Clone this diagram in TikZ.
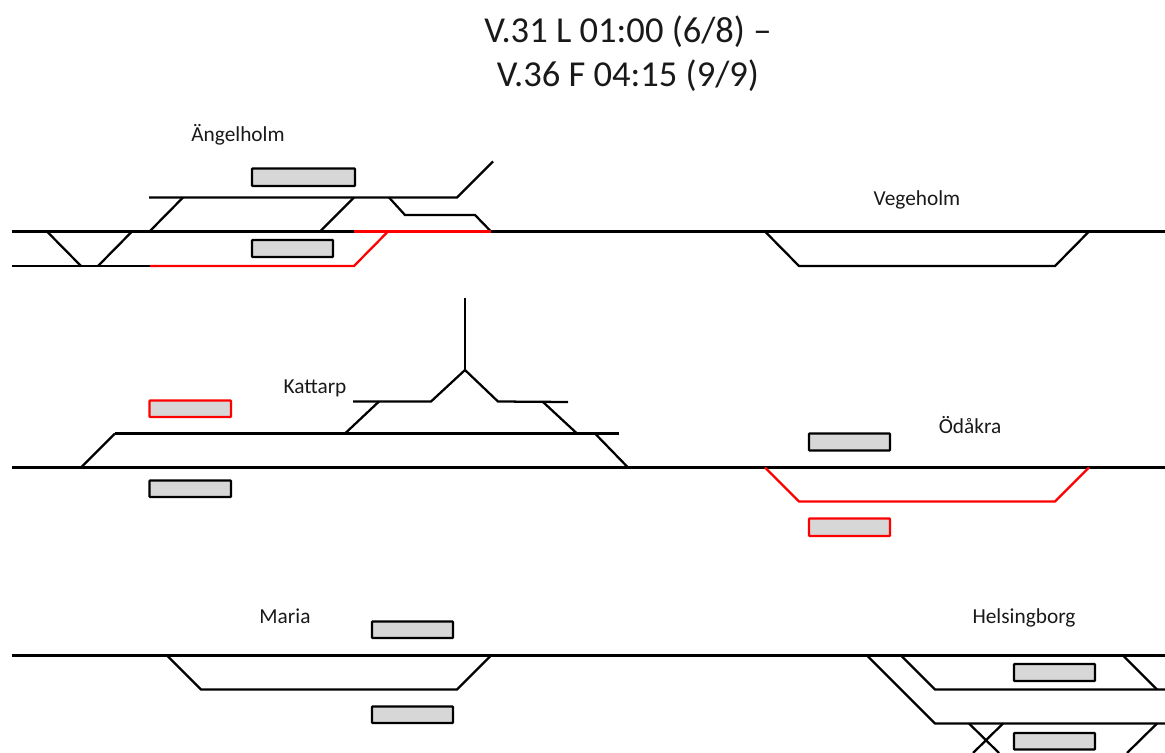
\documentclass[tikz,border=0pt]{standalone}
\usepackage{fontspec}
\setmainfont{Carlito}
\definecolor{platfill}{RGB}{215,215,215}
\definecolor{trackred}{RGB}{255,0,0}
\tikzset{
  track/.style={line width=1.7pt,black,line join=miter},
  redtrack/.style={line width=1.7pt,trackred,line join=miter},
  platform/.style={draw=black,fill=platfill,line width=1.7pt,rounded corners=0.5pt},
  redplatform/.style={platform,draw=trackred},
  place/.style={inner sep=0pt,anchor=base,font=\fontsize{16pt}{19pt}\selectfont,text=black!90},
  heading/.style={inner sep=0pt,align=center,font=\fontsize{27.4pt}{33pt}\selectfont,text=black!90}
}
\begin{document}
\begin{tikzpicture}[x=0.75pt,y=-0.75pt]
\useasboundingbox (0,0) rectangle (1165,753);
\clip (0,0) rectangle (1165,753);
\node[heading] (title) at (628,53.5) {V.31 L 01:00 (6/8) –\\V.36 F 04:15 (9/9)};
\node[place] (angelholm) at (238,141.5) {Ängelholm};
\node[place] (vegeholm) at (917,205.5) {Vegeholm};
\node[place] (kattarp) at (315,393) {Kattarp};
\node[place] (odakra) at (970,433) {Ödåkra};
\node[place] (maria) at (285,623) {Maria};
\node[place] (helsingborg) at (1024,623) {Helsingborg};
% platforms
\draw[platform] (252,168.5) rectangle (355,186);
\draw[platform] (252,240) rectangle (333,257);
\draw[redplatform] (149.5,400.5) rectangle (231,417);
\draw[platform] (149.5,480.5) rectangle (231,497);
\draw[platform] (809,433.5) rectangle (890,450.5);
\draw[redplatform] (809,518.5) rectangle (890,536);
\draw[platform] (372,621.5) rectangle (453,638);
\draw[platform] (372,706.5) rectangle (453,723);
\draw[platform] (1014,664) rectangle (1095,681);
\draw[platform] (1014,733) rectangle (1095,749.5);
% Angelholm
\draw[track] (12,231.5) -- (1165,231.5);
\draw[track] (12,266) -- (150,266);
\draw[track] (149,197.5) -- (457,197.5) -- (493,161.5);
\draw[track] (149.5,231.5) -- (183,197.5);
\draw[track] (320,231.5) -- (354,197.5);
\draw[track] (389,197.5) -- (405,215) -- (475,215) -- (491,231.5);
\draw[track] (47,231.5) -- (81,266);
\draw[track] (98,266) -- (132,231.5);
\draw[redtrack] (354,231.5) -- (491,231.5);
\draw[redtrack] (150,266) -- (354,266) -- (388,231.5);
% Vegeholm
\draw[track] (765,231.5) -- (799,266) -- (1055,266) -- (1089,231.5);
% Kattarp
\draw[track] (465,298) -- (465,370);
\draw[track] (353,401.5) -- (431,401.5) -- (465,370) -- (498,401.5) -- (568,402);
\draw[track] (345,433.5) -- (379,401.5);
\draw[track] (543,402) -- (577,433.5);
\draw[track] (115,433.5) -- (619,433.5);
\draw[track] (81,467.5) -- (115,433.5);
\draw[track] (595,433.5) -- (628,467.5);
\draw[track] (12,467.5) -- (1165,467.5);
% Odakra
\draw[redtrack] (765,467.5) -- (799,501.5) -- (1055,501.5) -- (1089,467.5);
% Maria
\draw[track] (12,655.5) -- (1165,655.5);
\draw[track] (167,655.5) -- (201,689.5) -- (457,689.5) -- (491,655.5);
% Helsingborg
\draw[track] (867,655.5) -- (935,723.5) -- (1165,723.5);
\draw[track] (901,655.5) -- (935,689.5) -- (1165,689.5);
\draw[track] (1123,655.5) -- (1157,689.5);
\draw[track] (969,723.5) -- (999,753);
\draw[track] (1003,723.5) -- (973,753);
\draw[track] (1157,723.5) -- (1127,753);
\end{tikzpicture}
\end{document}
